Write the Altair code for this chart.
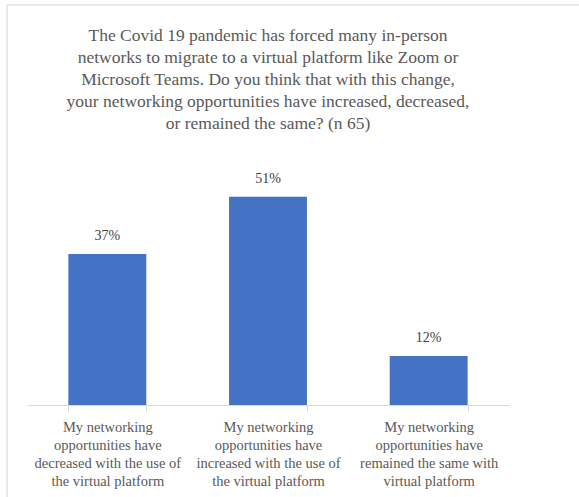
import altair as alt
import pandas as pd

categories = [
    "My networking\nopportunities have\ndecreased with the use of\nthe virtual platform",
    "My networking\nopportunities have\nincreased with the use of\nthe virtual platform",
    "My networking\nopportunities have\nremained the same with\nvirtual platform",
]
values = [37, 51, 12]
value_labels = ["37%", "51%", "12%"]

title_lines = [
    "The Covid 19 pandemic has forced many in-person",
    "networks to migrate to a virtual platform like Zoom or",
    "Microsoft Teams. Do you think that with this change,",
    "your networking opportunities have increased, decreased,",
    "or remained the same? (n 65)",
]

df = pd.DataFrame({"cat": categories, "val": values, "lab": value_labels})

FONT = "Liberation Serif"
W, H = 482, 245

x_enc = alt.X(
    "cat:N",
    sort=categories,
    title=None,
    scale=alt.Scale(paddingInner=0.515, paddingOuter=0.2575),
    axis=alt.Axis(
        labelAngle=0,
        labelExpr="split(datum.label, '\\n')",
        labelFont=FONT,
        labelFontSize=14.5,
        labelColor="#595959",
        labelLineHeight=18,
        labelPadding=9,
        labelLimit=0,
        domainColor="#D9D9D9",
        tickColor="#D9D9D9",
        tickSize=6,
        tickBand="extent",
        labelBaseline="top",
        grid=False,
    ),
)
y_enc = alt.Y("val:Q", scale=alt.Scale(domain=[0, 60]), axis=None)

bars = alt.Chart(df).mark_bar(color="#4472C4").encode(x=x_enc, y=y_enc)
labels = alt.Chart(df).mark_text(
    font=FONT, fontSize=14, color="#404040", baseline="bottom", dy=-11
).encode(x=alt.X("cat:N", sort=categories), y="val:Q", text="lab:N")

one = pd.DataFrame({"a": [0]})
border = alt.Chart(one).mark_rule(color="#D9D9D9", strokeWidth=1.2)
left_border = border.encode(x=alt.value(-20), y=alt.value(-155), y2=alt.value(H + 100))
top_border = border.encode(x=alt.value(-20), x2=alt.value(W + 80), y=alt.value(-155))

title = alt.Chart(one).mark_text(
    text=title_lines,
    font=FONT,
    fontSize=17.5,
    color="#595959",
    lineHeight=22,
    align="center",
    baseline="alphabetic",
).encode(x=alt.value(W / 2), y=alt.value(-119))

chart = (
    alt.layer(left_border, top_border, title, bars, labels)
    .properties(
        width=W,
        height=H,
        view=alt.ViewBackground(stroke="transparent", strokeWidth=0),
        autosize=alt.AutoSizeParams(type="none"),
        padding={"left": 27, "top": 160, "right": 70, "bottom": 92},
    )
    .configure_view(stroke="transparent", strokeWidth=0)
    .configure(background="white")
)

chart.save("out.html", embed_options={"renderer": "svg", "actions": False})
